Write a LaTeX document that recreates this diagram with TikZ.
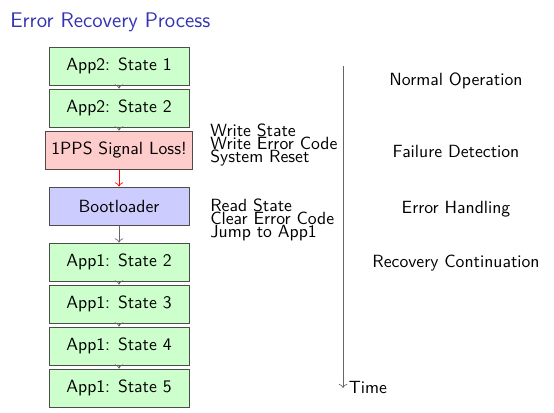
\documentclass[tikz,border=0pt]{standalone}
\usetikzlibrary{arrows.meta, positioning}
\definecolor{titleblue}{RGB}{51,51,179}

\begin{document}
\begin{tikzpicture}[
  x=0.6pt, y=-0.6pt,
  font=\sffamily\fontsize{10.6}{12}\selectfont,
  state/.style = {draw=black!70, line width=0.6pt, fill=green!20, minimum width=84pt, minimum height=22.8pt},
  fault/.style = {state, fill=red!20},
  boot/.style  = {state, fill=blue!20},
  flow/.style  = {->, black!60},
  note/.style  = {align=left, anchor=west, inner sep=0pt, font=\sffamily\fontsize{10.6}{7.8}\selectfont},
  phase/.style = {anchor=base},
]
\useasboundingbox (0,0) rectangle (554,412);

%── Title ─────────────────────────────────────────────────────────────────────
\node[anchor=base west, inner sep=0pt, text=titleblue,
      font=\sffamily\fontsize{12.7}{15}\selectfont] (title) at (10,27) {Error Recovery Process};

%── State column (x = 119) ────────────────────────────────────────────────────
\node[state] (a2s1) at (119, 66)  {App2: State 1};
\node[state] (a2s2) at (119, 108) {App2: State 2};
\node[fault] (loss) at (119, 150) {1PPS Signal Loss!};
\node[boot]  (boot) at (119, 206) {Bootloader};
\node[state] (a1s2) at (119, 262) {App1: State 2};
\node[state] (a1s3) at (119, 304) {App1: State 3};
\node[state] (a1s4) at (119, 346) {App1: State 4};
\node[state] (a1s5) at (119, 388) {App1: State 5};

%── Column wires ──────────────────────────────────────────────────────────────
\draw[flow]     (a2s1) -- (a2s2);
\draw[flow]     (a2s2) -- (loss);
\draw[->, red]  (loss) -- (boot);
\draw[flow]     (boot) -- (a1s2);
\draw[flow]     (a1s2) -- (a1s3);
\draw[flow]     (a1s3) -- (a1s4);
\draw[flow]     (a1s4) -- (a1s5);

%── Action notes ──────────────────────────────────────────────────────────────
\node[note] (lossact) at (210, 145) {Write State\\Write Error Code\\System Reset};
\node[note] (bootact) at (210, 220) {Read State\\Clear Error Code\\Jump to App1};

%── Time axis ─────────────────────────────────────────────────────────────────
\coordinate (ttop) at (343, 66);
\coordinate (tend) at (343, 388);
\draw[flow] (ttop) -- (tend);
\node[right] (time) at (tend) {Time};

%── Phase labels ──────────────────────────────────────────────────────────────
\node[phase] (normal)  at (456, 85)  {Normal Operation};
\node[phase] (detect)  at (456, 157) {Failure Detection};
\node[phase] (handle)  at (456, 213) {Error Handling};
\node[phase] (recover) at (456, 267) {Recovery Continuation};

\end{tikzpicture}
\end{document}
